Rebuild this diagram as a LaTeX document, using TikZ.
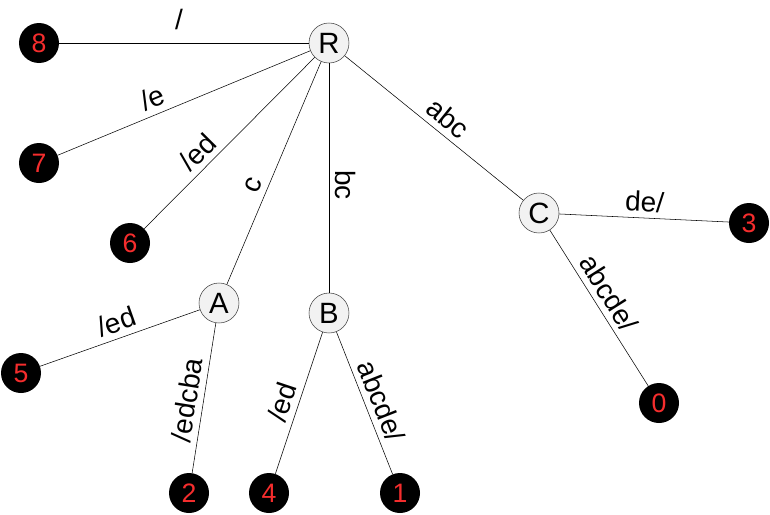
\documentclass[tikz,border=0pt]{standalone}
\usepackage{fontspec}
\setmainfont{Liberation Sans}
\usetikzlibrary{positioning}
\definecolor{nodefill}{RGB}{242,242,242}
\definecolor{leafred}{RGB}{245,45,45}

\begin{document}
\begin{tikzpicture}[x=0.75pt, y=-0.75pt,
  inner/.style={circle, draw=black!75, fill=nodefill, minimum size=30pt, inner sep=0pt, font=\fontsize{22}{22}\selectfont},
  leaf/.style={circle, fill=black, text=leafred, minimum size=30pt, inner sep=0pt, font=\fontsize{20}{20}\selectfont},
  lbl/.style={sloped, above, inner sep=4.5pt, font=\fontsize{21}{21}\selectfont}]
  \useasboundingbox (0,0) rectangle (770,514);
  % inner nodes
  \node[inner] (R) at (329,43) {R};
  \node[inner] (A) at (219,303) {A};
  \node[inner] (B) at (329,313) {B};
  \node[inner] (C) at (539,213) {C};
  % leaves
  \node[leaf] (n8) at (39,43) {8};
  \node[leaf] (n7) at (39,163) {7};
  \node[leaf] (n6) at (130,243) {6};
  \node[leaf] (n5) at (21,373) {5};
  \node[leaf] (n2) at (189,493) {2};
  \node[leaf] (n4) at (269,493) {4};
  \node[leaf] (n1) at (400,493) {1};
  \node[leaf] (n3) at (749,223) {3};
  \node[leaf] (n0) at (659,403) {0};
  % edges
  \draw (n8) -- node[lbl, pos=0.48, inner sep=10pt] {/} (R);
  \draw (n7) -- node[lbl, pos=0.4] {/e} (R);
  \draw (n6) -- node[lbl, pos=0.38] {/ed} (R);
  \draw (A) -- node[lbl, pos=0.42] {c} (R);
  \draw (R) -- node[lbl, pos=0.53] {bc} (B);
  \draw (R) -- node[lbl, pos=0.52] {abc} (C);
  \draw (C) -- node[lbl, pos=0.5] {de/} (n3);
  \draw (C) -- node[lbl, pos=0.46] {abcde/} (n0);
  \draw (n5) -- node[lbl, pos=0.51] {/ed} (A);
  \draw (n2) -- node[lbl, pos=0.47] {/edcba} (A);
  \draw (n4) -- node[lbl, pos=0.47] {/ed} (B);
  \draw (B) -- node[lbl, pos=0.53] {abcde/} (n1);
\end{tikzpicture}
\end{document}
